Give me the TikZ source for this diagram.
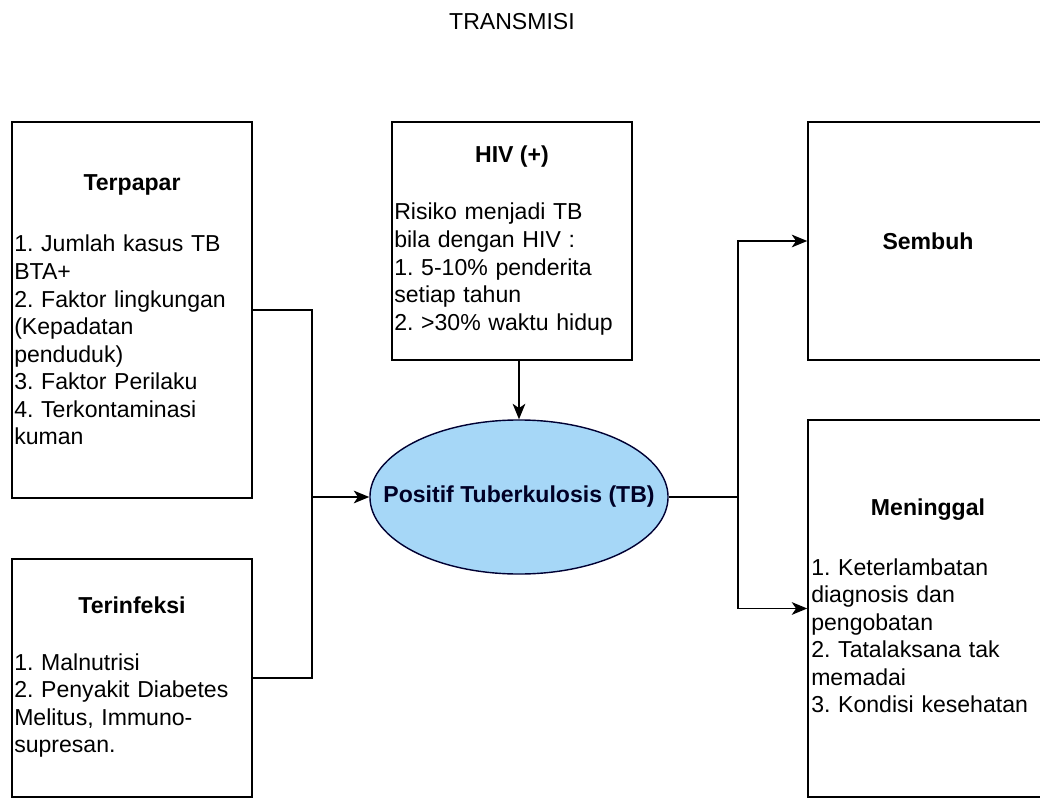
\documentclass[tikz,border=0pt]{standalone}
\usepackage{fontspec}
\setmainfont{Liberation Sans}
\frenchspacing
\usetikzlibrary{arrows.meta,shapes}
\definecolor{tbblue}{RGB}{166,215,247}
\tikzset{>={Stealth[length=11pt,width=9pt,inset=3pt]}}
\tikzset{
  box/.style={draw=black, line width=1pt, minimum width=6cm, inner sep=0pt},
  head/.style={anchor=base, inner sep=0pt, font=\fontsize{16.4}{19.6}\selectfont\bfseries},
  items/.style={anchor=base west, inner sep=0pt, text width=6cm, align=left, font=\fontsize{16.4}{19.6}\selectfont},
  conn/.style={line width=1pt},
}

\begin{document}
\begin{tikzpicture}[x=0.025cm,y=-0.025cm]
    \clip (0,0) rectangle (1040,801);
    \node[anchor=base, inner sep=0pt, font=\fontsize{16.4}{19.6}\selectfont] (title) at (512,30) {TRANSMISI};

    % left side
    \node[box, minimum height=9.4cm] (terpapar) at (132,310) {};
    \node[head] (terpaparH) at (132,191) {Terpapar};
    \node[items] (terpaparL) at (14,252) {1. Jumlah kasus TB\\BTA+\\2. Faktor lingkungan\\(Kepadatan\\penduduk)\\3. Faktor Perilaku\\4. Terkontaminasi\\kuman};

    \node[box, minimum height=5.95cm] (terinfeksi) at (132,678) {};
    \node[head] (terinfeksiH) at (132,613) {Terinfeksi};
    \node[items] (terinfeksiL) at (14,670) {1. Malnutrisi\\2. Penyakit Diabetes\\Melitus, Immuno-\\supresan.};

    % middle
    \node[box, minimum height=5.95cm] (hiv) at (512,241) {};
    \node[head] (hivH) at (512,163) {HIV (+)};
    \node[items] (hivL) at (394,220) {Risiko menjadi TB\\bila dengan HIV :\\1. 5-10\% penderita\\setiap tahun\\2. >30\% waktu hidup};

    \node[ellipse, draw=black!80!blue, fill=tbblue, line width=1pt, minimum width=7.45cm, minimum height=3.85cm, inner sep=0pt] (tb) at (519,497) {};
    \node[inner sep=0pt, font=\fontsize{16.4}{19.6}\selectfont\bfseries, text=black!85!blue] (tbtext) at (tb) {Positif Tuberkulosis (TB)};

    % right side
    \node[box, minimum height=5.95cm, font=\fontsize{16.4}{19.6}\selectfont\bfseries] (sembuh) at (928,241) {Sembuh};

    \node[box, minimum height=9.425cm] (meninggal) at (928,608.5) {};
    \node[head] (meninggalH) at (928,515) {Meninggal};
    \node[items] (meninggalL) at (811,575) {1. Keterlambatan\\diagnosis dan\\pengobatan\\2. Tatalaksana tak\\memadai\\3. Kondisi kesehatan};

    % connectors
    \coordinate (joinL) at (312,497);
    \coordinate (joinR) at (738,497);
    \draw[conn] (terpapar.east) -| (joinL);
    \draw[conn] (terinfeksi.east) -| (joinL);
    \draw[conn,->] (joinL) -- (tb.west);
    \draw[conn,->] (hiv.south -| tb.north) -- (tb.north);
    \draw[conn] (tb.east) -- (joinR);
    \draw[conn,->] (joinR) |- (sembuh.west);
    \draw[conn,->] (joinR) |- (meninggal.west);
\end{tikzpicture}
\end{document}
